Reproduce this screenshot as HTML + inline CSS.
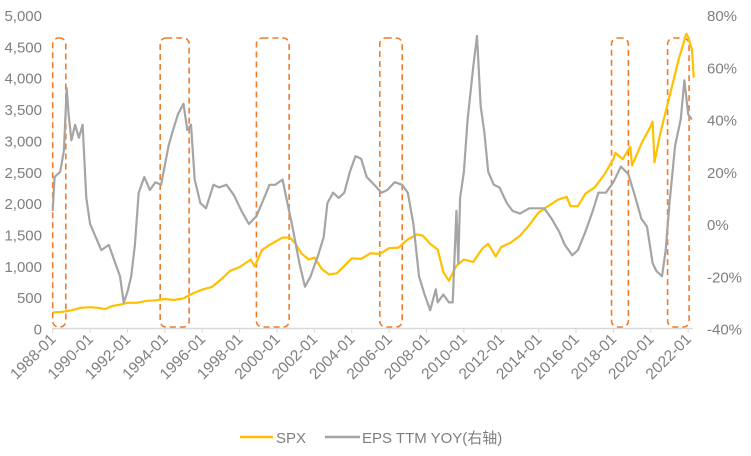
<!DOCTYPE html>
<html><head><meta charset="utf-8"><style>
body{margin:0;background:#fff;}
svg text{font-family:"Liberation Sans","Noto Sans CJK SC",sans-serif;fill:#7f7f7f;}
</style></head><body>
<svg id="chart" width="751" height="451" xmlns="http://www.w3.org/2000/svg">
<g id="axes"></g><g id="boxes"></g><g id="series"></g><g id="legend"></g>
</svg>
<script>
const leftTicks=[0,500,1000,1500,2000,2500,3000,3500,4000,4500,5000];
const leftTickLabels=["0","500","1,000","1,500","2,000","2,500","3,000","3,500","4,000","4,500","5,000"];
const rightTicks=[-40,-20,0,20,40,60,80];
const rightTickLabels=["-40%","-20%","0%","20%","40%","60%","80%"];
const xTickYears=[1988,1990,1992,1994,1996,1998,2000,2002,2004,2006,2008,2010,2012,2014,2016,2018,2020,2022];
const xTickLabels=xTickYears.map(y=>y+"-01");
const spxT=[1988,1988.5,1989,1989.5,1990,1990.4,1990.8,1991.2,1991.6,1992,1992.5,1993,1993.5,1994,1994.5,1995,1995.5,1996,1996.5,1997,1997.5,1998,1998.6,1998.8,1999.2,1999.6,2000,2000.3,2000.7,2001,2001.3,2001.7,2002,2002.4,2002.8,2003.2,2003.6,2004,2004.5,2005,2005.5,2006,2006.5,2007,2007.5,2007.8,2008.2,2008.6,2008.9,2009.2,2009.6,2010,2010.5,2011,2011.3,2011.7,2012,2012.5,2013,2013.5,2014,2014.5,2015,2015.5,2015.7,2016.1,2016.5,2017,2017.5,2018,2018.1,2018.5,2018.9,2019,2019.5,2020,2020.1,2020.2,2020.5,2021,2021.5,2021.9,2022,2022.2,2022.3];
const spxV=[255,265,290,330,340,330,310,360,380,410,410,440,450,470,455,480,560,620,660,780,920,980,1100,990,1250,1330,1400,1450,1450,1350,1200,1100,1130,950,860,880,1000,1120,1110,1200,1190,1280,1290,1420,1500,1480,1350,1260,900,760,1000,1100,1060,1280,1350,1150,1300,1370,1480,1650,1850,1950,2050,2100,1950,1950,2150,2250,2450,2700,2800,2700,2900,2600,2950,3230,3300,2650,3100,3700,4300,4700,4650,4450,4000];
const epsT=[1988,1988.1,1988.4,1988.6,1988.75,1988.85,1989,1989.2,1989.4,1989.6,1989.8,1990,1990.3,1990.6,1991,1991.3,1991.6,1991.8,1992,1992.2,1992.4,1992.6,1992.9,1993.2,1993.5,1993.8,1994.2,1994.4,1994.7,1995,1995.2,1995.4,1995.6,1995.9,1996.2,1996.6,1996.9,1997.3,1997.7,1998.1,1998.5,1998.9,1999.2,1999.6,1999.9,2000.3,2000.5,2000.8,2001.2,2001.5,2001.8,2002.2,2002.5,2002.7,2003,2003.3,2003.6,2003.9,2004.2,2004.5,2004.8,2005.2,2005.6,2005.9,2006.3,2006.7,2007,2007.3,2007.6,2007.9,2008.2,2008.5,2008.6,2008.9,2009.2,2009.4,2009.6,2009.7,2009.8,2010,2010.2,2010.5,2010.7,2010.9,2011.1,2011.3,2011.6,2011.9,2012.3,2012.6,2013,2013.5,2013.9,2014.3,2014.7,2015.1,2015.4,2015.8,2016.1,2016.5,2016.9,2017.2,2017.6,2018,2018.4,2018.8,2019.1,2019.5,2019.8,2020.1,2020.3,2020.6,2020.8,2021,2021.3,2021.6,2021.8,2022,2022.2,2022.3];
const epsV=[5,18,20,28,52,42,32,38,33,38,10,0,-5,-10,-8,-14,-20,-30,-26,-20,-8,12,18,13,16,15,30,35,42,46,36,38,17,8,6,15,14,15,11,5,0,3,8,15,15,17,10,0,-15,-24,-20,-12,-5,8,12,10,12,20,26,25,18,15,12,13,16,15,12,0,-20,-27,-33,-25,-30,-27,-30,-30,5,-15,10,20,40,60,72,45,35,20,15,14,8,5,4,6,6,6,2,-3,-8,-12,-10,-3,5,12,12,16,22,19,12,2,-1,-15,-18,-20,-10,8,30,40,55,42,40];
const boxStart=[1988.0,1993.75,1998.9,2005.5,2017.9,2020.9];
const boxEnd=[1988.7,1995.3,2000.65,2006.7,2018.8,2022.05];

const NS="http://www.w3.org/2000/svg";
const x=t=>52.7+(t-1988)*18.69;
const yL=v=>328.5-v/5000*313.5;
const yR=p=>328.5-(p+40)/120*313.5;
function mk(tag,attrs,parent,txt){const e=document.createElementNS(NS,tag);for(const k in attrs)e.setAttribute(k,attrs[k]);if(txt!==undefined)e.textContent=txt;parent.appendChild(e);return e;}
const axes=document.getElementById('axes');
let e=mk('line',{x1:52,x2:693,y1:328.5,y2:328.5,stroke:'#d9d9d9','stroke-width':1.5},axes);

leftTicks.forEach((v,i)=>{const t=mk('text',{x:42,y:yL(v)+6,'text-anchor':'end','font-size':15},axes,leftTickLabels[i]);

});
rightTicks.forEach((v,i)=>{const t=mk('text',{x:707,y:yR(v)+6,'text-anchor':'start','font-size':15},axes,rightTickLabels[i]);

});
xTickYears.forEach((yr,i)=>{const px=x(yr);
const l=mk('line',{x1:px,x2:px,y1:328.5,y2:333,stroke:'#d9d9d9','stroke-width':1},axes);


const t=mk('text',{x:px+4,y:340,'text-anchor':'end','font-size':15.5,transform:`rotate(-45 ${px+4} 340)`},axes,xTickLabels[i]);

});
const boxes=document.getElementById('boxes');
boxStart.forEach((s,i)=>{const x0=x(s),x1=x(boxEnd[i]);
const r=mk('rect',{x:x0,y:38,width:x1-x0,height:289,rx:6,fill:'none',stroke:'#f07c2c','stroke-width':1.6,'stroke-dasharray':'6,4'},boxes);

});
const series=document.getElementById('series');
const pts=(T,V,f)=>T.map((t,i)=>x(t).toFixed(1)+','+f(V[i]).toFixed(1)).join(' ');
const sp=mk('polyline',{points:pts(spxT,spxV,yL),fill:'none',stroke:'#ffc000','stroke-width':2.2,'stroke-linejoin':'round'},series);


const ep=mk('polyline',{points:pts(epsT,epsV,yR),fill:'none',stroke:'#a5a5a5','stroke-width':2.2,'stroke-linejoin':'round'},series);


const lg=document.getElementById('legend');


mk('line',{x1:240,x2:273,y1:437,y2:437,stroke:'#ffc000','stroke-width':2.5},lg);
let t1=mk('text',{x:276,y:443,'font-size':15},lg,'SPX');


mk('line',{x1:325,x2:360,y1:437,y2:437,stroke:'#a5a5a5','stroke-width':2.5},lg);
let t2=mk('text',{x:362,y:443,'font-size':15},lg,'EPS TTM YOY(右轴)');


</script>
</body></html>
